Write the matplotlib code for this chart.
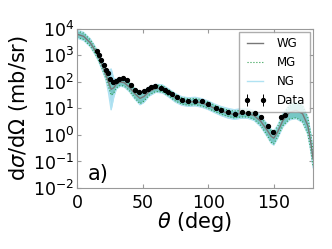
import numpy as np
import matplotlib
matplotlib.use("Agg")
import matplotlib.pyplot as plt

# ------------------------------------------------------------
# Data
# ------------------------------------------------------------

# Measured angular distribution (deg, mb/sr)
data_theta = [15, 16.5, 18.3, 20.6, 22.2, 23.9, 25.4, 27.7, 29.8, 31.8,
              34.9, 37.9, 41.2, 44.5, 47.5, 51.4, 53.9, 56.5, 59.5, 64,
              67, 69.7, 72.3, 76, 80.4, 85, 90, 95, 100, 106,
              110, 115.5, 120.5, 125.7, 130.7, 135.8, 140, 145.5, 149.8, 155.4,
              158.7]
data_xs = [1510, 1070, 660, 417, 282, 214, 132, 98, 112, 129,
           141, 123, 79, 51, 41, 47, 55, 65, 71, 59,
           50, 40, 35, 26, 21, 19, 19.5, 18.6, 15.1, 10.7,
           8.7, 7.2, 6.3, 7.6, 6.9, 6.6, 4.7, 2.2, 1.3, 4.7,
           5.6]
data_err = [v * 0.05 for v in data_xs]

# Calculations: angle grid, WG central curve (log10 mb/sr),
# and half-widths of the MG and NG bands (in decades)
calc_theta = [0, 5, 10, 13, 16, 19, 22, 24, 26, 28,
              30, 33, 36, 40, 44, 48, 51, 55, 60, 65,
              70, 75, 80, 85, 90, 95, 100, 105, 110, 115,
              120, 125, 130, 135, 140, 145, 148, 150, 153, 157,
              162, 167, 172, 176, 178, 180]
wg_log = [3.80, 3.72, 3.48, 3.25, 2.98, 2.65, 2.28, 2.00, 1.72, 1.78,
          1.92, 2.00, 1.97, 1.80, 1.56, 1.38, 1.45, 1.64, 1.76, 1.74,
          1.58, 1.40, 1.28, 1.24, 1.26, 1.21, 1.12, 1.00, 0.90, 0.82,
          0.77, 0.81, 0.81, 0.73, 0.52, 0.18, -0.05, -0.12, 0.12, 0.55,
          0.85, 0.93, 0.80, 0.35, -0.20, -0.90]
mg_spread = [0.12, 0.12, 0.12, 0.12, 0.12, 0.13, 0.15, 0.18, 0.22, 0.20,
             0.15, 0.13, 0.13, 0.14, 0.16, 0.20, 0.18, 0.14, 0.12, 0.12,
             0.12, 0.12, 0.12, 0.12, 0.12, 0.12, 0.12, 0.12, 0.12, 0.12,
             0.13, 0.13, 0.13, 0.14, 0.16, 0.20, 0.22, 0.22, 0.20, 0.20,
             0.25, 0.28, 0.30, 0.30, 0.30, 0.30]
ng_spread = [0.15, 0.15, 0.15, 0.15, 0.15, 0.17, 0.20, 0.40, 0.77, 0.35,
             0.18, 0.16, 0.16, 0.17, 0.20, 0.24, 0.22, 0.17, 0.15, 0.15,
             0.15, 0.16, 0.16, 0.16, 0.16, 0.16, 0.16, 0.16, 0.17, 0.18,
             0.18, 0.18, 0.18, 0.18, 0.20, 0.24, 0.26, 0.26, 0.24, 0.24,
             0.28, 0.31, 0.33, 0.33, 0.33, 0.33]

# ------------------------------------------------------------
# Build curves
# ------------------------------------------------------------

c = np.array(wg_log)
wg = 10 ** c
mg_lo, mg_hi = 10 ** (c - np.array(mg_spread)), 10 ** (c + np.array(mg_spread))
ng_lo, ng_hi = 10 ** (c - np.array(ng_spread)), 10 ** (c + np.array(ng_spread))

# ------------------------------------------------------------
# Plot
# ------------------------------------------------------------

fig = plt.figure(figsize=(3.32, 2.49), dpi=100)
ax = fig.add_axes([0.232, 0.245, 0.711, 0.639])

ax.fill_between(calc_theta, ng_lo, ng_hi, color="#94d6ec", alpha=0.8, lw=0)
ax.plot(calc_theta, ng_lo, color="#b0e2f2", lw=1.0)
ax.plot(calc_theta, ng_hi, color="#b0e2f2", lw=1.0, label="NG")

ax.fill_between(calc_theta, mg_lo, mg_hi, color="#55b8aa", alpha=0.6, lw=0)
ax.plot(calc_theta, mg_lo, color="#2e9e4f", lw=0.8, ls=":")
ax.plot(calc_theta, mg_hi, color="#2e9e4f", lw=0.8, ls=":", label="MG")

ax.plot(calc_theta, wg, color="#777777", lw=1.0, label="WG")

ax.errorbar(data_theta, data_xs, yerr=data_err, fmt="o", color="black",
            ms=2.8, elinewidth=0.7, capsize=0, label="Data", zorder=5)

ax.set_yscale("log")
ax.set_xlim(0, 180)
ax.set_ylim(1e-2, 1e4)
ax.set_xticks([0, 50, 100, 150])
ax.set_yticks([1e-2, 1e-1, 1, 1e1, 1e2, 1e3, 1e4])
ax.minorticks_off()

ax.tick_params(direction="in", top=True, right=True, labelsize=12.5,
               color="#999999", length=3, pad=2)
ax.tick_params(axis="x", pad=4)
for sp in ax.spines.values():
    sp.set_color("#999999")

ax.set_xlabel(r"$\theta$ (deg)", fontsize=15, labelpad=-1)
ax.set_ylabel(r"d$\sigma$/d$\Omega$ (mb/sr)", fontsize=15, labelpad=2)
ax.text(0.045, 0.05, "a)", transform=ax.transAxes, fontsize=15)

handles, labels = ax.get_legend_handles_labels()
order = [labels.index(n) for n in ["WG", "MG", "NG", "Data"]]
leg = ax.legend([handles[i] for i in order], [labels[i] for i in order],
                loc="upper right", fontsize=8.5, numpoints=2,
                borderaxespad=0.3, handlelength=2.0, fancybox=False)
leg.get_frame().set_edgecolor("#999999")

fig.savefig("out.png", dpi=100)
